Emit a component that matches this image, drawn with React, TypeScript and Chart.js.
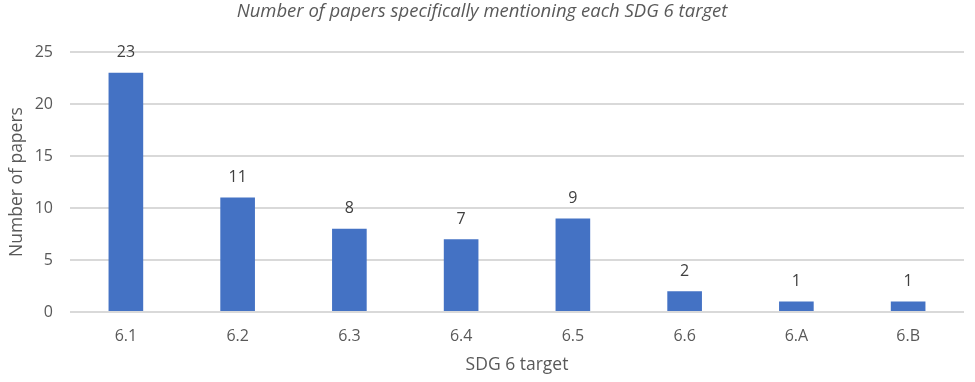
import React, { useEffect, useRef } from "react";
import { Chart, registerables } from "chart.js";

Chart.register(...registerables);

const categories = ["6.1", "6.2", "6.3", "6.4", "6.5", "6.6", "6.A", "6.B"];
const paperCounts = [23, 11, 8, 7, 9, 2, 1, 1];
const yTicks = [0, 5, 10, 15, 20, 25];

const TEXT = "#595959";
const FONT = "'Open Sans', 'Noto Sans', sans-serif";

const dataLabels = {
  id: "dataLabels",
  afterDatasetsDraw(chart: any) {
    const ctx = chart.ctx;
    const meta = chart.getDatasetMeta(0);
    ctx.save();
    ctx.fillStyle = "#404040";
    ctx.font = `16px ${FONT}`;
    ctx.textAlign = "center";
    ctx.textBaseline = "middle";
    meta.data.forEach((el: any, i: number) => {
      ctx.fillText(String(paperCounts[i]), el.x, el.y - 20);
    });
    ctx.restore();
  },
};

export default function App() {
  const ref = useRef<HTMLCanvasElement>(null);
  useEffect(() => {
    const chart = new Chart(ref.current!, {
      type: "bar",
      data: {
        labels: categories,
        datasets: [
          {
            data: paperCounts,
            backgroundColor: "#4472C4",
            categoryPercentage: 1,
            barPercentage: 0.31,
          },
        ],
      },
      options: {
        responsive: false,
        animation: false,
        layout: { padding: { left: 0, right: 11, top: 0, bottom: 0 } },
        plugins: {
          legend: { display: false },
          tooltip: { enabled: false },
          title: {
            display: true,
            text: "Number of papers specifically mentioning each SDG 6 target",
            color: TEXT,
            font: { family: FONT, size: 18.5, style: "italic", weight: "normal" },
            padding: { top: 1, bottom: 28.8 },
          },
        },
        scales: {
          x: {
            grid: { display: false, drawTicks: false },
            border: { display: false },
            ticks: { color: TEXT, font: { family: FONT, size: 16 }, padding: 15 },
            title: {
              display: true,
              text: "SDG 6 target",
              color: TEXT,
              font: { family: FONT, size: 17.5 },
              padding: { top: 0, bottom: 6.5 },
            },
            afterFit: (s: any) => {
              s.height = 70;
            },
          },
          y: {
            min: 0,
            max: 25,
            afterBuildTicks: (s: any) => {
              s.ticks = yTicks.map((v) => ({ value: v }));
            },
            grid: { color: "#D9D9D9", lineWidth: 2, drawTicks: false },
            border: { display: false },
            ticks: { color: TEXT, font: { family: FONT, size: 16 }, padding: 17 },
            title: {
              display: true,
              text: "Number of papers",
              color: TEXT,
              font: { family: FONT, size: 17.5 },
              padding: { top: 7, bottom: 0 },
            },
            afterFit: (s: any) => {
              s.width = 70;
            },
          },
        },
      },
      plugins: [dataLabels],
    });
    return () => chart.destroy();
  }, []);
  return (
    <div style={{ position: "absolute", left: 0, top: 0, width: 975, height: 382, background: "#fff" }}>
      <canvas ref={ref} width={975} height={382} style={{ display: "block" }} />
    </div>
  );
}
